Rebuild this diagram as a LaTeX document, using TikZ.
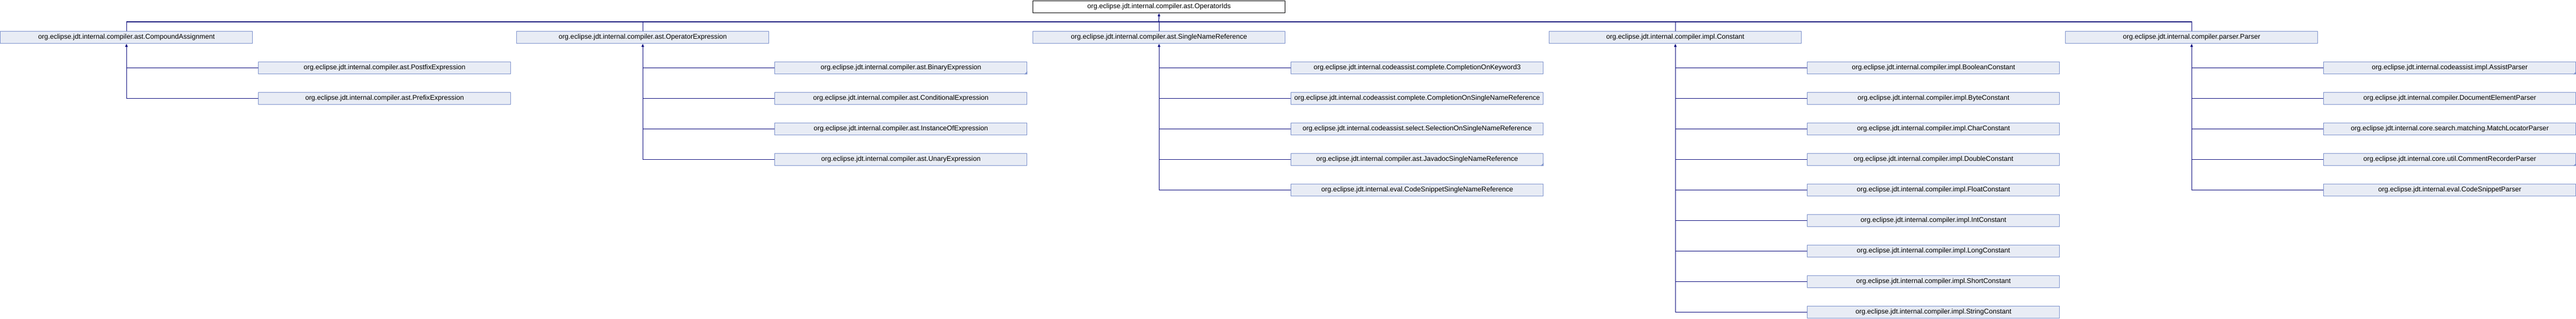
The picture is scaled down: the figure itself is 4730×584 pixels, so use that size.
\documentclass[tikz,border=0pt]{standalone}
\usepackage{fontspec}
\setmainfont{Liberation Sans}
\usetikzlibrary{arrows.meta}
\definecolor{boxfill}{RGB}{232,236,245}
\definecolor{boxline}{RGB}{124,145,204}
\definecolor{edgecol}{RGB}{16,16,128}
\tikzset{
  cls/.style={rectangle, draw=boxline, fill=boxfill, line width=1pt,
    minimum width=463.4pt, minimum height=22.6pt, inner sep=0pt,
    anchor=north west, font=\fontsize{12.6}{14}\selectfont},
  rootcls/.style={cls, draw=black, fill=white},
  edge/.style={draw=edgecol, line width=1.2pt},
  inh/.style={edge, {Triangle[length=5.5pt,width=4.5pt]}-},
  fold/.style={fill=boxline}
}
\newcommand{\foldmark}[1]{\fill[fold] (#1.south east) -- ++(-5.5,0) -- ++(5.5,-5.5) -- cycle;}
\begin{document}
\begin{tikzpicture}[x=1pt,y=-1pt]
\useasboundingbox (0,0) rectangle (4730,584);
% root
\node[rootcls] (root) at (1896,0.7) {org.eclipse.jdt.internal.compiler.ast.OperatorIds};
% level 1
\node[cls] (CA) at (0,56.7) {org.eclipse.jdt.internal.compiler.ast.CompoundAssignment};
\node[cls] (OE) at (948,56.7) {org.eclipse.jdt.internal.compiler.ast.OperatorExpression};
\node[cls] (SNR) at (1896,56.7) {org.eclipse.jdt.internal.compiler.ast.SingleNameReference};
\node[cls] (CO) at (2844,56.7) {org.eclipse.jdt.internal.compiler.impl.Constant};
\node[cls] (PA) at (3792,56.7) {org.eclipse.jdt.internal.compiler.parser.Parser};
% CompoundAssignment children
\node[cls] (ca1) at (474,112.7) {org.eclipse.jdt.internal.compiler.ast.PostfixExpression};
\node[cls] (ca2) at (474,168.7) {org.eclipse.jdt.internal.compiler.ast.PrefixExpression};
% OperatorExpression children
\node[cls] (oe1) at (1422,112.7) {org.eclipse.jdt.internal.compiler.ast.BinaryExpression};
\node[cls] (oe2) at (1422,168.7) {org.eclipse.jdt.internal.compiler.ast.ConditionalExpression};
\node[cls] (oe3) at (1422,224.7) {org.eclipse.jdt.internal.compiler.ast.InstanceOfExpression};
\node[cls] (oe4) at (1422,280.7) {org.eclipse.jdt.internal.compiler.ast.UnaryExpression};
% SingleNameReference children
\node[cls] (sn1) at (2370,112.7) {org.eclipse.jdt.internal.codeassist.complete.CompletionOnKeyword3};
\node[cls] (sn2) at (2370,168.7) {org.eclipse.jdt.internal.codeassist.complete.CompletionOnSingleNameReference};
\node[cls] (sn3) at (2370,224.7) {org.eclipse.jdt.internal.codeassist.select.SelectionOnSingleNameReference};
\node[cls] (sn4) at (2370,280.7) {org.eclipse.jdt.internal.compiler.ast.JavadocSingleNameReference};
\node[cls] (sn5) at (2370,336.7) {org.eclipse.jdt.internal.eval.CodeSnippetSingleNameReference};
% Constant children
\node[cls] (co1) at (3318,112.7) {org.eclipse.jdt.internal.compiler.impl.BooleanConstant};
\node[cls] (co2) at (3318,168.7) {org.eclipse.jdt.internal.compiler.impl.ByteConstant};
\node[cls] (co3) at (3318,224.7) {org.eclipse.jdt.internal.compiler.impl.CharConstant};
\node[cls] (co4) at (3318,280.7) {org.eclipse.jdt.internal.compiler.impl.DoubleConstant};
\node[cls] (co5) at (3318,336.7) {org.eclipse.jdt.internal.compiler.impl.FloatConstant};
\node[cls] (co6) at (3318,392.7) {org.eclipse.jdt.internal.compiler.impl.IntConstant};
\node[cls] (co7) at (3318,448.7) {org.eclipse.jdt.internal.compiler.impl.LongConstant};
\node[cls] (co8) at (3318,504.7) {org.eclipse.jdt.internal.compiler.impl.ShortConstant};
\node[cls] (co9) at (3318,560.7) {org.eclipse.jdt.internal.compiler.impl.StringConstant};
% Parser children
\node[cls] (pa1) at (4266,112.7) {org.eclipse.jdt.internal.codeassist.impl.AssistParser};
\node[cls] (pa2) at (4266,168.7) {org.eclipse.jdt.internal.compiler.DocumentElementParser};
\node[cls] (pa3) at (4266,224.7) {org.eclipse.jdt.internal.core.search.matching.MatchLocatorParser};
\node[cls] (pa4) at (4266,280.7) {org.eclipse.jdt.internal.core.util.CommentRecorderParser};
\node[cls] (pa5) at (4266,336.7) {org.eclipse.jdt.internal.eval.CodeSnippetParser};
% fold markers
\foldmark{oe1}
\foldmark{sn4}
\foldmark{pa1}
\foldmark{pa4}
% top bus
\coordinate (bus) at (2127.7,40);
\draw[edge] (CA.north) -- (CA.north |- bus) -- (PA.north |- bus) -- (PA.north);
\draw[edge] (OE.north) -- (OE.north |- bus);
\draw[edge] (SNR.north) -- (SNR.north |- bus);
\draw[edge] (CO.north) -- (CO.north |- bus);
\draw[inh] (root.south) -- (bus);
% CompoundAssignment
\draw[inh] (CA.south) -- (CA.south |- ca2.west) -- (ca2.west);
\draw[edge] (ca1.west) -- (CA.south |- ca1.west);
% OperatorExpression
\draw[inh] (OE.south) -- (OE.south |- oe4.west) -- (oe4.west);
\foreach \c in {oe1,oe2,oe3} \draw[edge] (\c.west) -- (OE.south |- \c.west);
% SingleNameReference
\draw[inh] (SNR.south) -- (SNR.south |- sn5.west) -- (sn5.west);
\foreach \c in {sn1,sn2,sn3,sn4} \draw[edge] (\c.west) -- (SNR.south |- \c.west);
% Constant
\draw[inh] (CO.south) -- (CO.south |- co9.west) -- (co9.west);
\foreach \c in {co1,co2,co3,co4,co5,co6,co7,co8} \draw[edge] (\c.west) -- (CO.south |- \c.west);
% Parser
\draw[inh] (PA.south) -- (PA.south |- pa5.west) -- (pa5.west);
\foreach \c in {pa1,pa2,pa3,pa4} \draw[edge] (\c.west) -- (PA.south |- \c.west);
\end{tikzpicture}
\end{document}
